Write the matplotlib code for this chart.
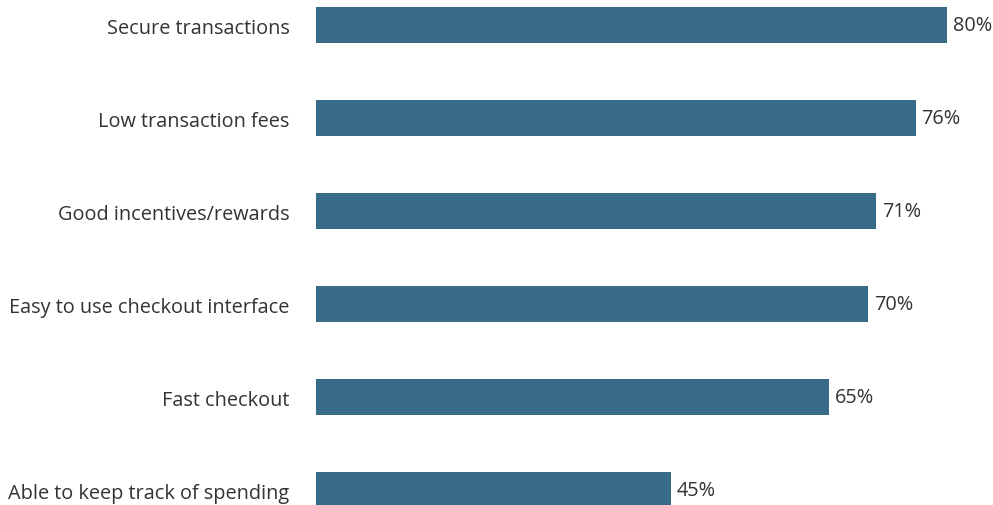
import matplotlib

matplotlib.use("Agg")
import matplotlib.pyplot as plt

plt.rcParams["font.family"] = ["Open Sans", "DejaVu Sans"]

BAR = "#386b87"
TEXT = "#333333"

labels = [
    "Secure transactions",
    "Low transaction fees",
    "Good incentives/rewards",
    "Easy to use checkout interface",
    "Fast checkout",
    "Able to keep track of spending",
]
values = [80, 76, 71, 70, 65, 45]

W, H = 993, 506
fig = plt.figure(figsize=(W / 100, H / 100), dpi=100)
left = 316 / W
ax = fig.add_axes([left, 0, 0.99 - left, 1])

ypos = list(range(len(labels)))
ax.barh(ypos, values, height=0.39, color=BAR)
for y, v in zip(ypos, values):
    ax.annotate(f"{v}%", xy=(v, y), xytext=(4, 0), textcoords="offset points",
                va="center", ha="left", fontsize=14.3, color=TEXT)

ax.set_xlim(0, 84.53)
ax.set_ylim(5.16, -0.282)
ax.set_yticks(ypos)
ax.set_yticklabels(labels, fontsize=14.3, color=TEXT)
ax.tick_params(axis="y", length=0, pad=19)
ax.set_xticks([])
for s in ax.spines.values():
    s.set_visible(False)

fig.savefig("out.png", dpi=100)
